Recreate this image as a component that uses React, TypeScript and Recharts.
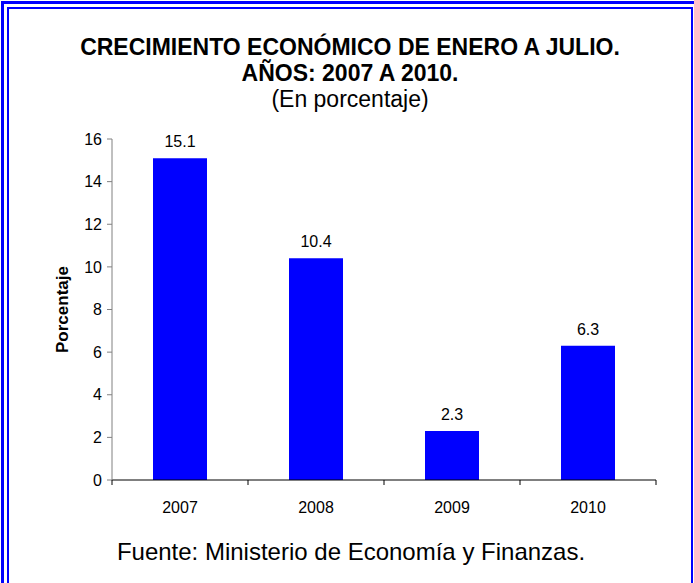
import { Bar, BarChart, LabelList, XAxis, YAxis } from "recharts";

const years = ["2007", "2008", "2009", "2010"];
const growth = [15.1, 10.4, 2.3, 6.3];
const yTicks = [0, 2, 4, 6, 8, 10, 12, 14, 16];

const data = years.map((year, i) => ({ year, value: growth[i] }));

const FONT = "'Liberation Sans', Arial, sans-serif";

// etiqueta vertical del eje Y, centrada en el alto del eje
function YLabel(props: any) {
  const { x, y, height } = props.viewBox;
  const cx = x + 10;
  const cy = y + height / 2;
  return (
    <text
      x={cx}
      y={cy}
      transform={`rotate(-90, ${cx}, ${cy})`}
      textAnchor="middle"
      dominantBaseline="central"
      fontSize={17}
      fontWeight="bold"
      fill="#000"
      fontFamily={FONT}
    >
      Porcentaje
    </text>
  );
}

// tick de categoría: texto al centro y marcas en los bordes de cada banda
function YearTick(props: any) {
  const { x, y, payload, index, visibleTicksCount } = props;
  const half = payload.offset || 0;
  const axisY = y - 22;
  const last = index === visibleTicksCount - 1;
  return (
    <g>
      <line x1={x - half} x2={x - half} y1={axisY} y2={axisY + 5} stroke="#000" />
      {last && <line x1={x + half} x2={x + half} y1={axisY} y2={axisY + 5} stroke="#000" />}
      <text x={x} y={y + 11} textAnchor="middle" fontSize={16} fill="#000" fontFamily={FONT}>
        {payload.value}
      </text>
    </g>
  );
}

const titleLine = (top: number, bold: boolean) => ({
  position: "absolute" as const,
  left: 0,
  width: 700,
  top,
  textAlign: "center" as const,
  fontSize: 23,
  lineHeight: "26px",
  fontWeight: bold ? "bold" : "normal",
  color: "#000",
});

export default function App() {
  return (
    <div
      style={{
        position: "absolute",
        left: 0,
        top: 0,
        width: 694,
        height: 583,
        overflow: "hidden",
        background: "#fff",
        fontFamily: FONT,
      }}
    >
      {/* marco doble azul */}
      <div
        style={{
          position: "absolute",
          left: 1,
          top: 1,
          width: 800,
          height: 800,
          border: "3px solid #0000ff",
        }}
      />
      <div
        style={{
          position: "absolute",
          left: 7,
          top: 7,
          width: 686,
          height: 800,
          boxSizing: "border-box",
          borderLeft: "2px solid #0000ff",
          borderTop: "2px solid #0000ff",
          borderRight: "2px solid #0000ff",
        }}
      />

      <div style={titleLine(34, true)}>CRECIMIENTO ECONÓMICO DE ENERO A JULIO.</div>
      <div style={titleLine(60, true)}>AÑOS: 2007 A 2010.</div>
      <div style={titleLine(86, false)}>(En porcentaje)</div>

      <div style={{ position: "absolute", left: 0, top: 0 }}>
        <BarChart
          width={694}
          height={583}
          data={data}
          margin={{ top: 139, right: 38, left: 52, bottom: 73 }}
          style={{ fontFamily: FONT }}
        >
          <XAxis
            dataKey="year"
            height={30}
            axisLine={{ stroke: "#000" }}
            tickLine={false}
            tickSize={5}
            tickMargin={17}
            interval={0}
            tick={<YearTick />}
          />
          <YAxis
            width={60}
            domain={[0, 16]}
            ticks={yTicks}
            interval={0}
            axisLine={{ stroke: "#808080" }}
            tickLine={{ stroke: "#808080" }}
            tickSize={5}
            tickMargin={5}
            tick={{ fill: "#000", fontSize: 16 }}
            label={<YLabel />}
          />
          <Bar dataKey="value" fill="#0000ff" barSize={54} isAnimationActive={false}>
            <LabelList
              dataKey="value"
              position="top"
              offset={11}
              fill="#000"
              fontSize={16}
              formatter={(v: any) => Number(v).toFixed(1)}
            />
          </Bar>
        </BarChart>
      </div>

      <div
        style={{
          position: "absolute",
          left: 0,
          width: 702,
          top: 539,
          textAlign: "center",
          fontSize: 24,
          lineHeight: "26px",
          color: "#000",
        }}
      >
        Fuente: Ministerio de Economía y Finanzas.
      </div>
    </div>
  );
}
